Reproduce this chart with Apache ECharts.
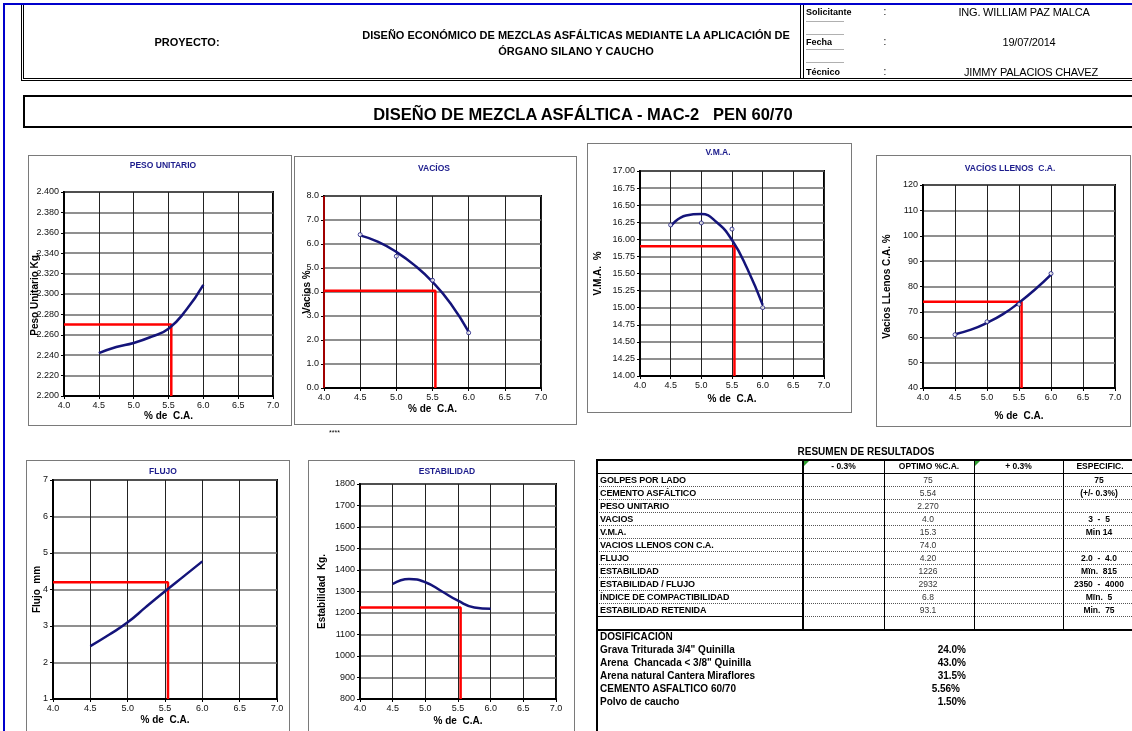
<!DOCTYPE html>
<html lang="es">
<head>
<meta charset="utf-8">
<title>Diseño de mezcla asfáltica MAC-2</title>
<script src="https://cdn.jsdelivr.net/npm/echarts@6/dist/echarts.min.js"></script>
<style>
  html, body { margin: 0; padding: 0; background: #fff; }
  #page { position: relative; width: 1132px; height: 731px; overflow: hidden; background: #fff;
          font-family: "Liberation Sans", Arial, sans-serif; color: #000; }
  #page div.a { position: absolute; box-sizing: border-box; }
  #chart { position: absolute; left: 0; top: 0; width: 1132px; height: 731px; z-index: 2; }
</style>
</head>
<body>
<div id="page"><div id="chart"></div></div>
<script>
// ---- Data ----------------------------------------------------------------
// asphalt content (% C.A.) where the fitted curves are read, and test samples
const trendCA  = [4.5, 4.75, 5.0, 5.25, 5.5, 5.75, 6.0];
const sampleCA = [4.5, 5.0, 5.5, 6.0];

const pesoTrend    = [2.242, 2.248, 2.252, 2.258, 2.266, 2.284, 2.309];
const vaciosTrend  = [6.36, 6.09, 5.67, 5.12, 4.42, 3.52, 2.34];
const vaciosSample = [6.39, 5.49, 4.49, 2.30];
const vmaTrend     = [16.19, 16.35, 16.37, 16.25, 15.99, 15.57, 15.04];
const vmaSample    = [16.21, 16.24, 16.15, 15.00];
const vllTrend     = [61.2, 63.0, 65.7, 69.1, 73.6, 78.8, 84.7];
const vllSample    = [61.0, 66.1, 73.0, 85.1];
const flujoTrend   = [2.45, 2.76, 3.10, 3.53, 3.95, 4.36, 4.77];
const estabTrend   = [1335, 1358, 1343, 1301, 1257, 1226, 1220];

// optimum asphalt content and the value read on each curve
const optimoCA  = 5.54;
const pesoOpt   = 2.270;
const vaciosOpt = 4.05;
const vmaOpt    = 15.90;
const vllOpt    = 74.0;
const flujoOpt  = 4.20;
const estabOpt  = 1226;

// summary table
const headerLabels  = ['', '- 0.3%', 'OPTIMO %C.A.', '+ 0.3%', 'ESPECIFIC.'];
const resumenLabels = ['GOLPES POR LADO', 'CEMENTO ASFÁLTICO', 'PESO UNITARIO', 'VACIOS', 'V.M.A.',
                       'VACIOS LLENOS CON C.A.', 'FLUJO', 'ESTABILIDAD', 'ESTABILIDAD / FLUJO',
                       'ÍNDICE DE COMPACTIBILIDAD', 'ESTABILIDAD RETENIDA', ''];
const optimoValues  = ['75', '5.54', '2.270', '4.0', '15.3', '74.0', '4.20', '1226', '2932', '6.8', '93.1', ''];
const especValues   = ['75', '(+/- 0.3%)', '', '3  -  5', 'Min 14', '', '2.0  -  4.0', 'Mïn.  815',
                       '2350  -  4000', 'Mïn.  5', 'Min.  75', ''];
const dosifLabels   = ['Grava Triturada 3/4" Quinilla', 'Arena  Chancada < 3/8" Quinilla',
                       'Arena natural Cantera Miraflores', 'CEMENTO ASFALTICO 60/70', 'Polvo de caucho'];
const dosifValues   = ['24.0%', '43.0%', '31.5%', '5.56%', '1.50%'];

// ---- Page furniture (frames, header, table) ------------------------------
const page = document.getElementById('page');
const FONT = '"Liberation Sans", Arial, sans-serif';

function box(css) {
  const d = document.createElement('div');
  d.className = 'a';
  Object.assign(d.style, css);
  page.appendChild(d);
  return d;
}
function txt(text, x, y, o) {
  o = o || {};
  const align = o.align || 'left';
  const d = box({
    top: (y - 8) + 'px', height: '16px', lineHeight: '16px', whiteSpace: 'pre',
    fontSize: (o.size || 9) + 'px', fontWeight: o.bold ? 'bold' : 'normal',
    color: o.color || '#000', textAlign: align, letterSpacing: (o.ls || 0) + 'px', zIndex: 3
  });
  if (align === 'center') { d.style.left = (x - 300) + 'px'; d.style.width = '600px'; }
  else if (align === 'right') { d.style.left = (x - 600) + 'px'; d.style.width = '600px'; }
  else { d.style.left = x + 'px'; }
  d.textContent = text;
  return d;
}
function hline(x1, x2, y, w, style, color) {
  return box({ left: x1 + 'px', top: y + 'px', width: (x2 - x1) + 'px', height: '0px',
               borderTop: w + 'px ' + (style || 'solid') + ' ' + (color || '#000'), zIndex: 3 });
}
function vline(x, y1, y2, w, color) {
  return box({ left: x + 'px', top: y1 + 'px', width: '0px', height: (y2 - y1) + 'px',
               borderLeft: w + 'px solid ' + (color || '#000'), zIndex: 3 });
}

// blue sheet frame
box({ left: '3px', top: '3px', width: '1140px', height: '2px', background: '#0000cc' });
box({ left: '3px', top: '3px', width: '2px', height: '740px', background: '#0000cc' });

// header block
box({ left: '21px', top: '5px', width: '1130px', height: '76px',
      borderLeft: '3px double #000', borderBottom: '3px double #000' });
box({ left: '800px', top: '5px', width: '4px', height: '74px',
      borderLeft: '1px solid #000', borderRight: '1px solid #000' });
txt('PROYECTO:', 187, 42, { bold: true, size: 11, align: 'center' });
txt('DISEÑO ECONÓMICO DE MEZCLAS ASFÁLTICAS MEDIANTE LA APLICACIÓN DE', 576, 35, { bold: true, size: 11, align: 'center' });
txt('ÓRGANO SILANO Y CAUCHO', 576, 51, { bold: true, size: 11, align: 'center' });
const infoLabels = ['Solicitante', 'Fecha', 'Técnico'];
const infoValues = ['ING. WILLIAM PAZ MALCA', '19/07/2014', 'JIMMY PALACIOS CHAVEZ'];
const infoCenters = [1024, 1029, 1031];
infoLabels.forEach((l, i) => {
  const y = 12 + i * 30;
  txt(l, 806, y, { bold: true, size: 9 });
  txt(':', 885, y, { size: 10, align: 'center' });
  txt(infoValues[i], infoCenters[i], y, { size: 11, align: 'center', ls: -0.2 });
});
[21, 34, 49, 62].forEach(y => hline(806, 844, y, 1, 'solid', '#b0b0b0'));

// main title
box({ left: '23px', top: '95px', width: '1130px', height: '33px', border: '2px solid #000' });
txt('DISEÑO DE MEZCLA ASFÁLTICA - MAC-2   PEN 60/70', 583, 114, { bold: true, size: 16.5, align: 'center' });

// chart frames
[[28, 155, 264, 271], [294, 156, 283, 269], [587, 143, 265, 270],
 [876, 155, 255, 272], [26, 460, 264, 300], [308, 460, 267, 300]].forEach(b => {
  box({ left: b[0] + 'px', top: b[1] + 'px', width: b[2] + 'px', height: b[3] + 'px', border: '1px solid #7a7a7a' });
});
txt('****', 329, 433, { size: 7 });

// summary table
txt('RESUMEN DE RESULTADOS', 866, 452, { bold: true, size: 10, align: 'center' });
const colX = [597, 803, 884, 974, 1063, 1145];
const headTop = 459, rowTop = 473, rowH = 13, tableBottom = 629;
hline(597, 1140, headTop, 2);
hline(597, 1140, rowTop, 1);
headerLabels.forEach((h, c) => {
  if (h) txt(h, (colX[c] + colX[c + 1]) / 2 + (c === 4 ? -4 : 0), headTop + 7, { bold: true, size: 8.5, align: 'center' });
});
// green comment marks in two header cells
[803, 974].forEach(x => box({ left: (x + 1) + 'px', top: (headTop + 2) + 'px', width: '0px', height: '0px',
  borderTop: '5px solid #2e9e2e', borderRight: '5px solid transparent', zIndex: 4 }));
resumenLabels.forEach((l, r) => {
  const y = rowTop + r * rowH + 6.5;
  if (l) txt(l, 600, y, { bold: true, size: 9, ls: -0.1 });
  if (optimoValues[r]) txt(optimoValues[r], 928, y, { size: 8.5, align: 'center', color: '#333' });
  if (especValues[r]) txt(especValues[r], 1099, y, { bold: true, size: 8.5, align: 'center' });
  const yb = rowTop + (r + 1) * rowH;
  if (r < resumenLabels.length - 1) {
    if (r === 10) { hline(597, 803, yb, 1); hline(803, 1140, yb, 1, 'dotted', '#555'); }
    else hline(597, 1140, yb, 1, 'dotted', '#555');
  }
});
hline(597, 1140, tableBottom, 2);
vline(596, headTop, 740, 2);
vline(802, headTop, tableBottom, 2);
[884, 974, 1063].forEach(x => vline(x, headTop, tableBottom, 1));

// mix proportions
txt('DOSIFICACIÓN', 600, 637, { bold: true, size: 10 });
dosifLabels.forEach((l, i) => {
  const y = 650 + i * 13;
  txt(l, 600, y, { bold: true, size: 10 });
  txt(dosifValues[i], i === 3 ? 960 : 966, y, { bold: true, size: 10, align: 'right' });
});

// ---- Charts ---------------------------------------------------------------
const NAVY = '#14147a';
const pairs = (xs, ys) => xs.map((x, i) => [x, ys[i]]);

const charts = [
  { title: 'PESO UNITARIO', tx: 163, ty: 166, grid: [64, 192, 209, 204], y: [2.2, 2.4, 0.02, 3],
    yName: 'Peso Unitario Kg.', yGap: 24, xGap: 15, trend: pesoTrend, sample: null, opt: pesoOpt },
  { title: 'VACÍOS', tx: 434, ty: 169, grid: [324, 196, 217, 192], y: [0, 8, 1, 1],
    yName: 'Vacios %', yGap: 12, xGap: 16, trend: vaciosTrend, sample: vaciosSample, opt: vaciosOpt, redAxis: true },
  { title: 'V.M.A.', tx: 718, ty: 153, grid: [640, 171, 184, 205], y: [14, 17, 0.25, 2],
    yName: 'V.M.A.  %', yGap: 37, xGap: 18, trend: vmaTrend, sample: vmaSample, opt: vmaOpt },
  { title: 'VACÍOS LLENOS  C.A.', tx: 1010, ty: 169, grid: [923, 185, 192, 203], y: [40, 120, 10, 0],
    yName: 'Vacios LLenos C.A. %', yGap: 31, xGap: 23, trend: vllTrend, sample: vllSample, opt: vllOpt },
  { title: 'FLUJO', tx: 163, ty: 472, grid: [53, 480, 224, 219], y: [1, 7, 1, 0],
    yName: 'Flujo  mm', yGap: 11, xGap: 16, trend: flujoTrend, sample: null, opt: flujoOpt },
  { title: 'ESTABILIDAD', tx: 447, ty: 472, grid: [360, 484, 196, 215], y: [800, 1800, 100, 0],
    yName: 'Estabilidad  Kg.', yGap: 33, xGap: 17, trend: estabTrend, sample: null, opt: estabOpt }
];

const option = {
  animation: false,
  textStyle: { fontFamily: FONT },
  grid: [], xAxis: [], yAxis: [], series: [], graphic: []
};

charts.forEach((c, i) => {
  option.grid.push({
    left: c.grid[0], top: c.grid[1], width: c.grid[2], height: c.grid[3],
    show: true, borderColor: '#000', borderWidth: 2, backgroundColor: 'transparent',
    containLabel: false, outerBoundsMode: 'none'
  });
  option.xAxis.push({
    gridIndex: i, type: 'value', min: 4, max: 7, interval: 0.5,
    axisLine: { show: true, onZero: false, lineStyle: { color: '#000', width: 2 } },
    axisTick: { show: true, length: 3, lineStyle: { color: '#000' } },
    axisLabel: { fontSize: 9, color: '#111', margin: 5, formatter: v => v.toFixed(1) },
    splitLine: { show: true, lineStyle: { color: '#222', width: 1 } },
    name: '% de  C.A.', nameLocation: 'middle', nameGap: c.xGap, nameMoveOverlap: false,
    nameTextStyle: { fontWeight: 'bold', fontSize: 10, color: '#000' }
  });
  option.yAxis.push({
    gridIndex: i, type: 'value', min: c.y[0], max: c.y[1], interval: c.y[2],
    axisLine: { show: true, onZero: false, lineStyle: { color: '#000', width: 2 } },
    axisTick: { show: true, length: 3, lineStyle: { color: '#000' } },
    axisLabel: { fontSize: 9, color: '#111', margin: 5, formatter: v => v.toFixed(c.y[3]) },
    splitLine: { show: true, lineStyle: { color: '#6a6a6a', width: 1.5 } },
    name: c.yName, nameLocation: 'middle', nameGap: c.yGap, nameMoveOverlap: false,
    nameTextStyle: { fontWeight: 'bold', fontSize: 10, color: '#000' }
  });
  if (c.redAxis) {
    option.series.push({
      type: 'line', xAxisIndex: i, yAxisIndex: i, silent: true, symbol: 'none', z: 3,
      lineStyle: { color: '#a00000', width: 2 },
      data: [[4, c.y[0]], [4, c.y[1]]]
    });
  }
  // optimum reading: horizontal from the axis, then down to the base
  option.series.push({
    type: 'line', xAxisIndex: i, yAxisIndex: i, silent: true, symbol: 'none', z: 3,
    lineStyle: { color: '#ff0000', width: 2.5 },
    data: [[4, c.opt], [optimoCA, c.opt], [optimoCA, c.y[0]]]
  });
  option.series.push({
    type: 'line', xAxisIndex: i, yAxisIndex: i, silent: true, symbol: 'none', smooth: true, z: 4,
    lineStyle: { color: NAVY, width: 2.5 },
    data: pairs(trendCA, c.trend)
  });
  if (c.sample) {
    option.series.push({
      type: 'scatter', xAxisIndex: i, yAxisIndex: i, silent: true, symbol: 'circle', symbolSize: 4, z: 5,
      itemStyle: { color: '#fff', borderColor: NAVY, borderWidth: 1 },
      data: pairs(sampleCA, c.sample)
    });
  }
  option.graphic.push({
    type: 'text', x: c.tx, y: c.ty, z: 10,
    style: { text: c.title, fill: '#1c1c8c', fontSize: 8.5, fontWeight: 'bold', fontFamily: FONT,
             align: 'center', verticalAlign: 'middle', textAlign: 'center', textVerticalAlign: 'middle' }
  });
});

const chart = echarts.init(document.getElementById('chart'), null, { renderer: 'canvas' });
chart.setOption(option);
</script>
</body>
</html>
